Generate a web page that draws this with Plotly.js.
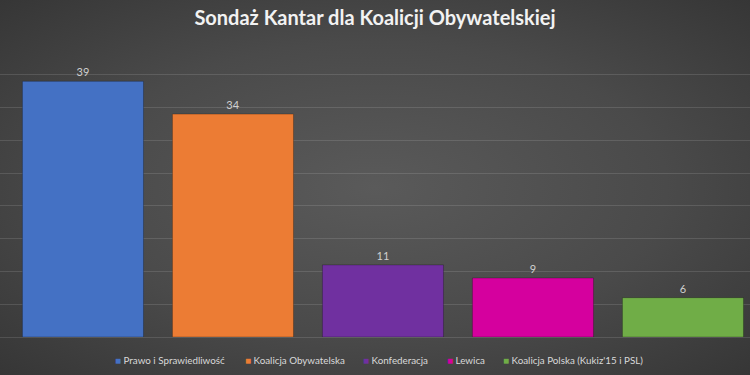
<!DOCTYPE html>
<html>
<head>
<meta charset="utf-8">
<script src="https://cdn.plot.ly/plotly-3.0.1.min.js"></script>
<style>
  html, body { margin: 0; padding: 0; }
  body { width: 750px; height: 375px; overflow: hidden;
    background: radial-gradient(ellipse at 50% 50%, #5a5a5a 0%, #4a4a4a 55%, #363636 100%); }
  #chart { width: 750px; height: 375px; }
</style>
</head>
<body>
<div id="chart"></div>
<script>
const categories = ["Prawo i Sprawiedliwość", "Koalicja Obywatelska", "Konfederacja", "Lewica", "Koalicja Polska (Kukiz'15 i PSL)"];
const values = [39, 34, 11, 9, 6];
const colors = ["#4471c4", "#ec7c34", "#7030a0", "#d5009e", "#70ad47"];
const titleText = "Sondaż Kantar dla Koalicji Obywatelskiej";

// legend entry left edges (px from left of the 750px plot area)
const legendLeft = [113, 243, 361, 445, 501];

const traces = categories.map((c, i) => ({
  type: "bar",
  name: c,
  x: [c],
  y: [values[i]],
  width: 0.807,
  marker: { color: colors[i], line: { color: "rgba(0,0,0,0.25)", width: 1 } },
  text: [String(values[i])],
  textposition: "outside",
  textfont: { family: "Lato, 'Open Sans', sans-serif", size: 11, color: "#d0d0d0" },
  cliponaxis: false,
  hoverinfo: "skip",
  showlegend: false
}));

const legendAnnotations = categories.map((c, i) => ({
  xref: "paper", yref: "paper",
  x: legendLeft[i] / 750, xanchor: "left",
  y: -23 / 295, yanchor: "middle",
  showarrow: false,
  text: "<span style='color:" + colors[i] + ";font-size:10px'>■</span> " + c,
  font: { family: "Lato, 'Open Sans', sans-serif", size: 9.8, color: "#d9d9d9" }
}));

const layout = {
  width: 750, height: 375,
  paper_bgcolor: "rgba(0,0,0,0)",
  plot_bgcolor: "rgba(0,0,0,0)",
  margin: { l: 0, r: 0, t: 42, b: 38 },
  barmode: "overlay",
  showlegend: false,
  title: {
    text: "<b>" + titleText + "</b>",
    font: { family: "Lato, 'Open Sans', sans-serif", size: 20, color: "#f2f2f2" },
    x: 0.5, xanchor: "center",
    y: 1 - 18 / 375, yref: "container", yanchor: "middle"
  },
  xaxis: {
    type: "category",
    categoryarray: categories,
    range: [-0.553, 4.447],
    showticklabels: false, showgrid: false, zeroline: false, showline: false, ticks: ""
  },
  yaxis: {
    range: [0, 45],
    dtick: 5,
    showticklabels: false,
    showgrid: true,
    gridcolor: "rgba(255,255,255,0.12)",
    gridwidth: 1,
    zeroline: true,
    zerolinecolor: "rgba(255,255,255,0.12)",
    zerolinewidth: 1,
    showline: false, ticks: ""
  },
  annotations: legendAnnotations
};

Plotly.newPlot("chart", traces, layout, { displayModeBar: false, staticPlot: true });
</script>
</body>
</html>
